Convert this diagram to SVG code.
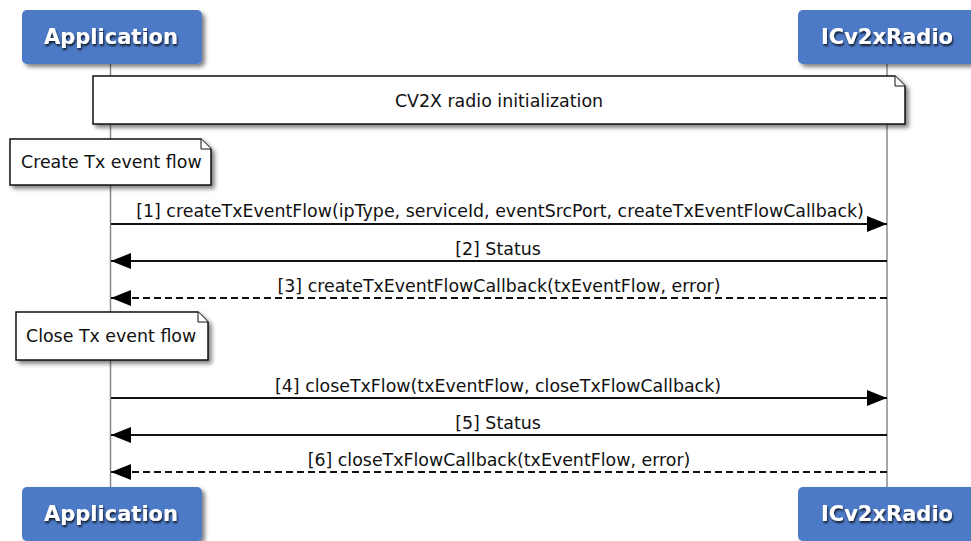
<svg xmlns="http://www.w3.org/2000/svg" width="971" height="541" viewBox="0 0 971 541">
<defs>
<filter id="sh" x="-10%" y="-10%" width="130%" height="140%">
<feGaussianBlur in="SourceAlpha" stdDeviation="2"/>
<feOffset dx="3" dy="3" result="b"/>
<feComponentTransfer><feFuncA type="linear" slope="0.5"/></feComponentTransfer>
<feMerge><feMergeNode/><feMergeNode in="SourceGraphic"/></feMerge>
</filter>
<filter id="ts" x="-10%" y="-20%" width="120%" height="150%">
<feGaussianBlur in="SourceAlpha" stdDeviation="1.2"/>
<feOffset dx="1" dy="1.5" result="b"/>
<feComponentTransfer><feFuncA type="linear" slope="0.8"/></feComponentTransfer>
<feMerge><feMergeNode/><feMergeNode in="SourceGraphic"/></feMerge>
</filter>
<marker id="ah" viewBox="0 0 20 16" refX="20" refY="8" markerWidth="20" markerHeight="16" markerUnits="userSpaceOnUse" orient="auto">
<path d="M0,0 L20,8 L0,16 Z" fill="#000"/>
</marker>
</defs>
<style>
.actor rect{fill:#4E7AC6;}
.actor text{font-family:"DejaVu Sans",sans-serif;font-weight:bold;font-size:21px;fill:#fff;text-anchor:middle;}
.note path.bg{fill:#fff;stroke:#111;stroke-width:1.5;}
.note path.fold{fill:#fff;stroke:#111;stroke-width:1;}
.note text,.msg text{font-family:"DejaVu Sans",sans-serif;font-size:17.4px;fill:#111;}
.msg text{text-anchor:middle;}
.life{stroke:#8a8a8a;stroke-width:1.5;}
.msg line{stroke:#111;stroke-width:2;marker-end:url(#ah);}
.msg line.dash{stroke-dasharray:7,4;}
</style>
<g id="lifelines">
<line class="life" x1="110.5" y1="64" x2="110.5" y2="487"/>
<line class="life" x1="887" y1="64" x2="887" y2="487"/>
</g>
<g id="actor-app-top" class="actor">
<rect x="22" y="10" width="180" height="54" rx="5" filter="url(#sh)"/>
<text x="111" y="44" filter="url(#ts)">Application</text>
</g>
<g id="actor-radio-top" class="actor">
<rect x="798" y="10" width="190" height="54" rx="5" filter="url(#sh)"/>
<text x="887" y="44" filter="url(#ts)">ICv2xRadio</text>
</g>
<g id="note-init" class="note">
<path class="bg" d="M93,76 H895 L905,86 V124 H93 Z" filter="url(#sh)"/>
<path class="fold" d="M895,76 V86 H905"/>
<text x="499" y="107" text-anchor="middle">CV2X radio initialization</text>
</g>
<g id="note-create" class="note">
<path class="bg" d="M10,139 H201 L211,149 V185 H10 Z" filter="url(#sh)"/>
<path class="fold" d="M201,139 V149 H211"/>
<text x="21" y="168">Create Tx event flow</text>
</g>
<g id="note-close" class="note">
<path class="bg" d="M16,312 H198 L208,322 V360 H16 Z" filter="url(#sh)"/>
<path class="fold" d="M198,312 V322 H208"/>
<text x="26" y="342">Close Tx event flow</text>
</g>
<g id="messages">
<g class="msg"><line x1="111" y1="224" x2="887" y2="224"/><text x="500" y="217">[1] createTxEventFlow(ipType, serviceId, eventSrcPort, createTxEventFlowCallback)</text></g>
<g class="msg"><line x1="887" y1="261" x2="111" y2="261"/><text x="498" y="255">[2] Status</text></g>
<g class="msg"><line class="dash" x1="887" y1="298" x2="111" y2="298"/><text x="499" y="292">[3] createTxEventFlowCallback(txEventFlow, error)</text></g>
<g class="msg"><line x1="111" y1="398" x2="887" y2="398"/><text x="498" y="392">[4] closeTxFlow(txEventFlow, closeTxFlowCallback)</text></g>
<g class="msg"><line x1="887" y1="435" x2="111" y2="435"/><text x="498" y="429">[5] Status</text></g>
<g class="msg"><line class="dash" x1="887" y1="472" x2="111" y2="472"/><text x="499" y="466">[6] closeTxFlowCallback(txEventFlow, error)</text></g>
</g>
<g id="actor-app-bottom" class="actor">
<rect x="22" y="487" width="180" height="54" rx="5" filter="url(#sh)"/>
<text x="111" y="521" filter="url(#ts)">Application</text>
</g>
<g id="actor-radio-bottom" class="actor">
<rect x="798" y="487" width="190" height="54" rx="5" filter="url(#sh)"/>
<text x="887" y="521" filter="url(#ts)">ICv2xRadio</text>
</g>
</svg>
